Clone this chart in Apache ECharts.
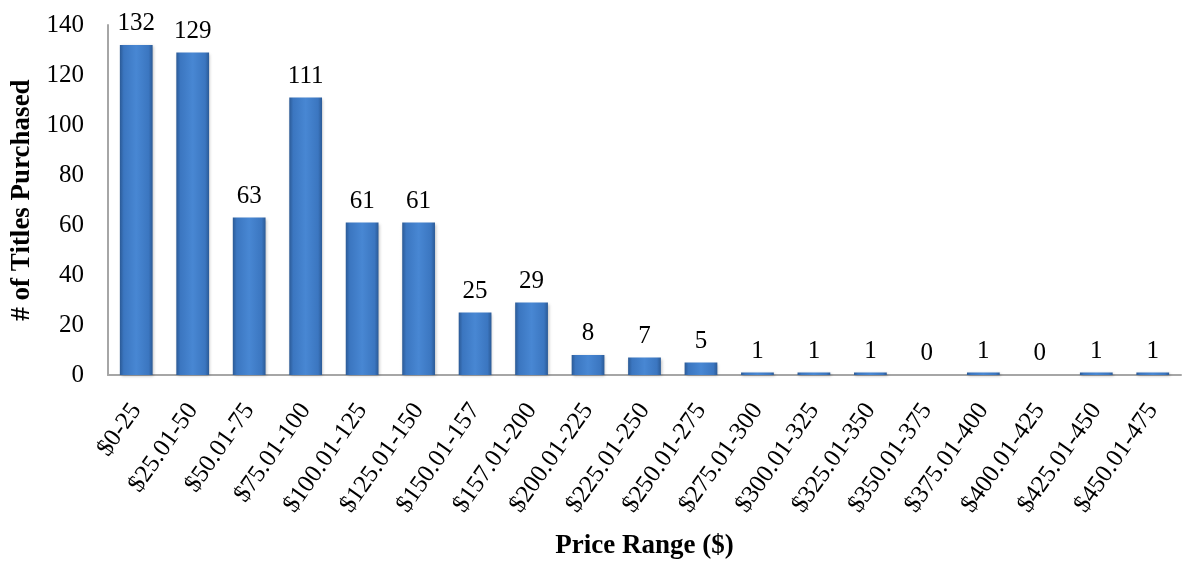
<!DOCTYPE html>
<html>
<head>
<meta charset="utf-8">
<script src="https://cdn.jsdelivr.net/npm/echarts@6/dist/echarts.min.js"></script>
<style>
  html, body { margin: 0; padding: 0; background: #fff; }
  #chart { width: 1183px; height: 565px; }
</style>
</head>
<body>
<div id="chart"></div>
<script>
// Number of titles purchased in each price band
const priceRanges = [
  '$0-25', '$25.01-50', '$50.01-75', '$75.01-100', '$100.01-125',
  '$125.01-150', '$150.01-157', '$157.01-200', '$200.01-225', '$225.01-250',
  '$250.01-275', '$275.01-300', '$300.01-325', '$325.01-350', '$350.01-375',
  '$375.01-400', '$400.01-425', '$425.01-450', '$450.01-475'
];
const titlesPurchased = [132, 129, 63, 111, 61, 61, 25, 29, 8, 7, 5, 1, 1, 1, 0, 1, 0, 1, 1];

const yMin = 0, yMax = 140, yStep = 20;
const FONT = '"Liberation Serif", "Times New Roman", serif';

// Bevelled blue bar: darker edges, lighter centre
const barFill = new echarts.graphic.LinearGradient(0, 0, 1, 0, [
  { offset: 0, color: '#2b5a96' },
  { offset: 0.12, color: '#3b76c0' },
  { offset: 0.5, color: '#4887d3' },
  { offset: 0.88, color: '#3b76c0' },
  { offset: 1, color: '#2b5a96' }
]);

const chart = echarts.init(document.getElementById('chart'), null, { renderer: 'canvas' });
chart.setOption({
  animation: false,
  backgroundColor: '#ffffff',
  grid: { left: 108, right: 2, top: 25, bottom: 187, containLabel: false },
  xAxis: {
    type: 'category',
    data: priceRanges,
    axisLine: { show: true, lineStyle: { color: '#a6a6a6', width: 2 } },
    axisTick: { show: false },
    axisLabel: {
      rotate: 55,
      interval: 0,
      margin: 31,
      color: '#000',
      fontFamily: FONT,
      fontSize: 25
    },
    name: 'Price Range ($)',
    nameLocation: 'middle',
    nameGap: 158,
    nameTextStyle: { fontFamily: FONT, fontSize: 27, fontWeight: 'bold', color: '#000' }
  },
  yAxis: {
    type: 'value',
    min: yMin,
    max: yMax,
    interval: yStep,
    splitLine: { show: false },
    axisLine: { show: true, lineStyle: { color: '#a6a6a6', width: 2 } },
    axisTick: { show: false },
    axisLabel: { color: '#000', fontFamily: FONT, fontSize: 25, margin: 24 },
    name: '# of Titles Purchased',
    nameLocation: 'middle',
    nameGap: 72,
    nameTextStyle: { fontFamily: FONT, fontSize: 27, fontWeight: 'bold', color: '#000' }
  },
  series: [{
    type: 'bar',
    data: titlesPurchased,
    barWidth: '58%',
    itemStyle: {
      color: barFill,
      shadowColor: 'rgba(0,0,0,0.25)',
      shadowBlur: 3,
      shadowOffsetX: 1,
      shadowOffsetY: 1
    },
    label: {
      show: true,
      position: 'top',
      distance: 9,
      color: '#000',
      fontFamily: FONT,
      fontSize: 25
    }
  }]
});
</script>
</body>
</html>
